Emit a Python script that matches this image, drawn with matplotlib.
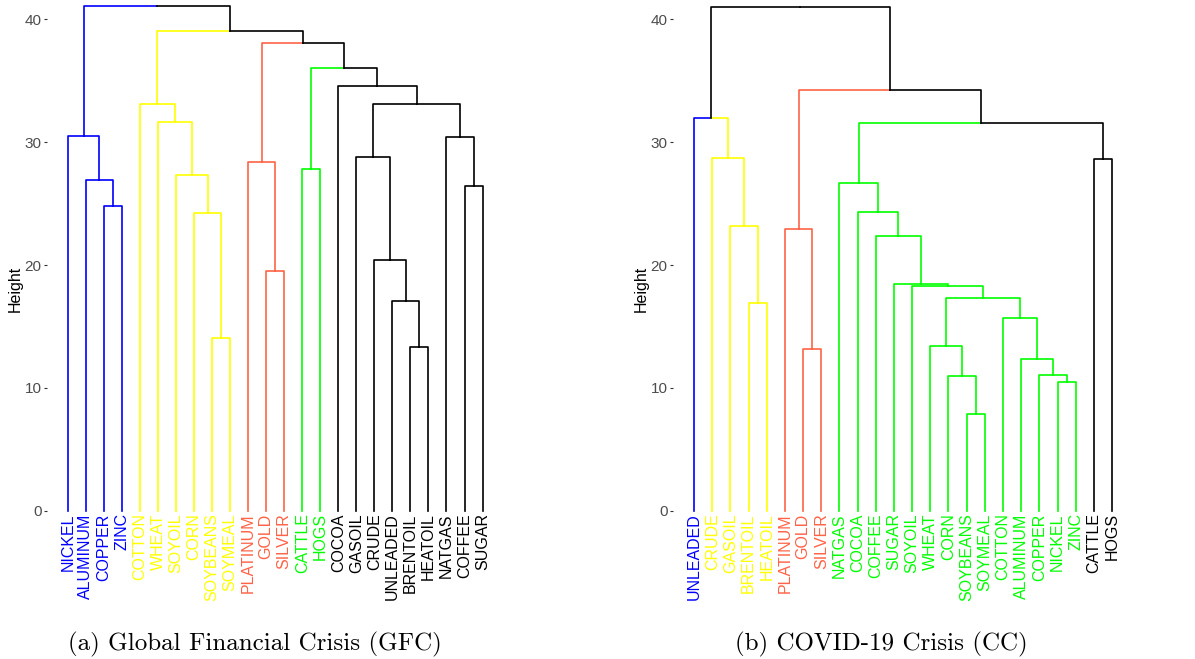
import matplotlib.pyplot as plt

plt.rcParams['font.family'] = ['Liberation Sans', 'DejaVu Sans']

# leaf order as drawn, cluster of each leaf, and merges (left, right, height)
# a merge child is either a leaf name or the index of an earlier merge
gfc_labels = ['NICKEL', 'ALUMINUM', 'COPPER', 'ZINC', 'COTTON', 'WHEAT', 'SOYOIL', 'CORN',
              'SOYBEANS', 'SOYMEAL', 'PLATINUM', 'GOLD', 'SILVER', 'CATTLE', 'HOGS', 'COCOA',
              'GASOIL', 'CRUDE', 'UNLEADED', 'BRENTOIL', 'HEATOIL', 'NATGAS', 'COFFEE', 'SUGAR']
gfc_clusters = [1, 1, 1, 1, 2, 2, 2, 2, 2, 2, 3, 3, 3, 4, 4, 5, 5, 5, 5, 5, 5, 5, 5, 5]
gfc_merges = [
    ('BRENTOIL', 'HEATOIL', 13.3),
    ('SOYBEANS', 'SOYMEAL', 14.05),
    ('UNLEADED', 0, 17.1),
    ('GOLD', 'SILVER', 19.5),
    ('CRUDE', 2, 20.4),
    ('CORN', 1, 24.2),
    ('COPPER', 'ZINC', 24.8),
    ('COFFEE', 'SUGAR', 26.4),
    ('ALUMINUM', 6, 26.9),
    ('SOYOIL', 5, 27.3),
    ('CATTLE', 'HOGS', 27.8),
    ('PLATINUM', 3, 28.4),
    ('GASOIL', 4, 28.8),
    ('NATGAS', 7, 30.4),
    ('NICKEL', 8, 30.5),
    ('WHEAT', 9, 31.65),
    (12, 13, 33.1),
    ('COTTON', 15, 33.1),
    ('COCOA', 16, 34.6),
    (10, 18, 36.0),
    (11, 19, 38.1),
    (17, 20, 39.0),
    (14, 21, 41.1),
]

cc_labels = ['UNLEADED', 'CRUDE', 'GASOIL', 'BRENTOIL', 'HEATOIL', 'PLATINUM', 'GOLD', 'SILVER',
             'NATGAS', 'COCOA', 'COFFEE', 'SUGAR', 'SOYOIL', 'WHEAT', 'CORN', 'SOYBEANS',
             'SOYMEAL', 'COTTON', 'ALUMINUM', 'COPPER', 'NICKEL', 'ZINC', 'CATTLE', 'HOGS']
cc_clusters = [1, 2, 2, 2, 2, 3, 3, 3, 4, 4, 4, 4, 4, 4, 4, 4, 4, 4, 4, 4, 4, 4, 5, 5]
cc_merges = [
    ('SOYBEANS', 'SOYMEAL', 7.9),
    ('NICKEL', 'ZINC', 10.45),
    ('CORN', 0, 10.95),
    ('COPPER', 1, 11.05),
    ('ALUMINUM', 3, 12.35),
    ('GOLD', 'SILVER', 13.2),
    ('WHEAT', 2, 13.4),
    ('COTTON', 4, 15.7),
    ('BRENTOIL', 'HEATOIL', 16.9),
    (6, 7, 17.3),
    ('SOYOIL', 9, 18.3),
    ('SUGAR', 10, 18.45),
    ('COFFEE', 11, 22.4),
    ('PLATINUM', 5, 22.9),
    ('GASOIL', 8, 23.2),
    ('COCOA', 12, 24.3),
    ('NATGAS', 15, 26.7),
    ('CATTLE', 'HOGS', 28.6),
    ('CRUDE', 14, 28.7),
    (16, 17, 31.55),
    ('UNLEADED', 18, 32.0),
    (13, 19, 34.25),
    (20, 21, 41.0),
]

cluster_colors = {1: '#0000FF', 2: '#FFFF00', 3: '#FF6347', 4: '#00FF00', 5: '#000000'}


def draw_dendrogram(ax, labels, clusters, merges):
    nodes = []

    def get(ref):
        if isinstance(ref, str):
            i = labels.index(ref)
            return i + 1, 0.0, clusters[i]
        return nodes[ref]

    for left, right, h in merges:
        xl, hl, cl = get(left)
        xr, hr, cr = get(right)
        xm = (xl + xr) / 2
        for x, hc, c in ((xl, hl, cl), (xr, hr, cr)):
            col = cluster_colors[c] if c else 'black'
            ax.plot([x, x, xm], [hc, h, h], color=col, lw=1.2)
        nodes.append((xm, h, cl if cl == cr else None))

    for i, name in enumerate(labels):
        ax.text(i + 1, -0.2, name, rotation=90, ha='center', va='top', fontsize=11.5,
                color=cluster_colors[clusters[i]], clip_on=False)

    ax.set_xlim(-0.16, len(labels) + 1.16)
    ax.set_ylim(-0.5, 41.4)
    ax.set_xticks([])
    ax.set_yticks([0, 10, 20, 30, 40])
    ax.tick_params(axis='y', length=2.2, width=0.8, color='#333333', labelcolor='#4D4D4D',
                   labelsize=11, pad=1.8)
    for s in ax.spines.values():
        s.set_visible(False)
    ax.set_ylabel('Height', fontsize=11.5)
    ax.yaxis.set_label_coords(-0.053, 0.443)


fig = plt.figure(figsize=(11.95, 6.59), dpi=100)
ax1 = fig.add_axes([0.0393, 0.2155, 0.382, 0.7815])
ax2 = fig.add_axes([0.5632, 0.2155, 0.385, 0.7815])

draw_dendrogram(ax1, gfc_labels, gfc_clusters, gfc_merges)
draw_dendrogram(ax2, cc_labels, cc_clusters, cc_merges)

fig.text(254.5 / 1195, 1 - 644 / 659, '(a) Global Financial Crisis (GFC)', family='cmr10',
         fontsize=18, ha='center', va='center')
fig.text(881.5 / 1195, 1 - 644 / 659, '(b) COVID-19 Crisis (CC)', family='cmr10',
         fontsize=18, ha='center', va='center')

fig.savefig('out.png', dpi=100)
